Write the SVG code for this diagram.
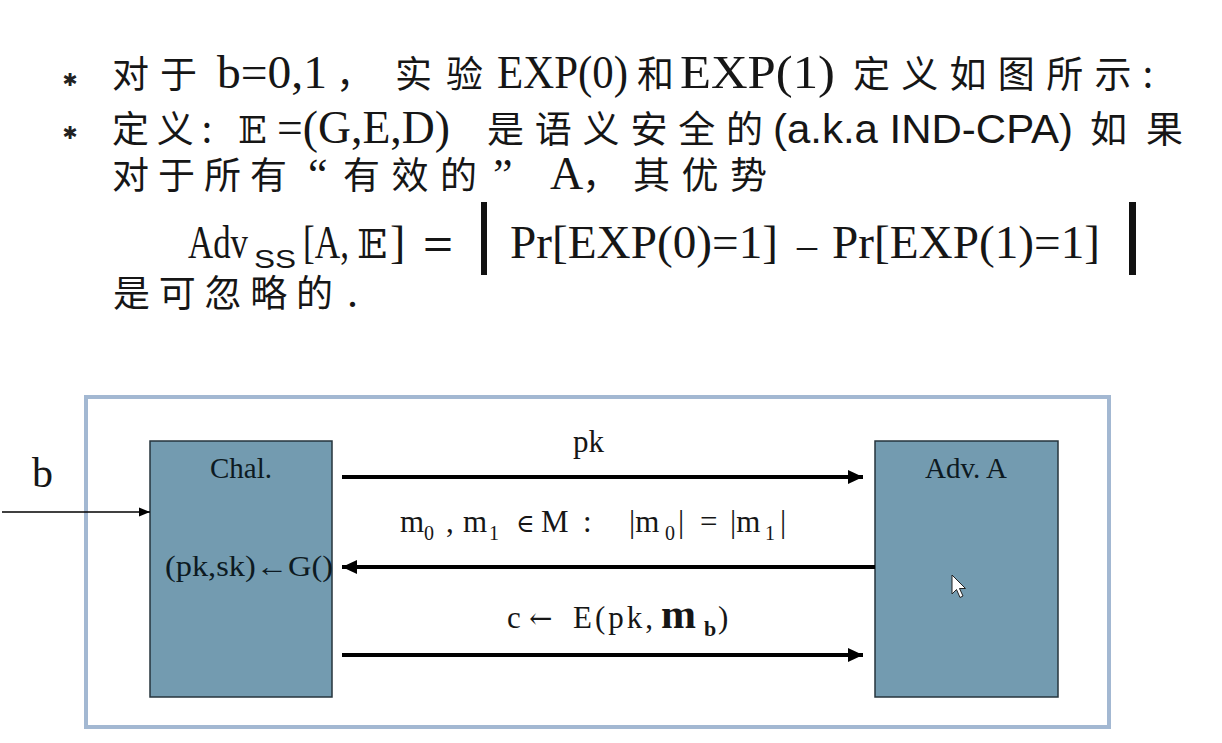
<svg xmlns="http://www.w3.org/2000/svg" width="1222" height="743" viewBox="0 0 1222 743">
<style>
.cjk{font-family:"Noto Sans CJK SC",sans-serif;font-size:37px;fill:#161616}
.ser{font-family:"Liberation Serif","DejaVu Serif","Noto Sans CJK SC",serif;fill:#161616}
.san{font-family:"Liberation Sans","DejaVu Sans",sans-serif;fill:#161616}
.bb{font-family:"DejaVu Serif","Liberation Serif",serif;fill:#161616}
.box{fill:#739bb0;stroke:#26343d;stroke-width:1.5}
.dia{font-family:"Liberation Serif","DejaVu Serif",serif;fill:#0d1a22}
.conn{stroke:#000;stroke-width:4;fill:none}
</style>
<defs>
<marker id="ah" markerUnits="userSpaceOnUse" markerWidth="16" markerHeight="16" refX="15" refY="8" orient="auto"><path d="M0,1 L15,8 L0,15 z" fill="#000"/></marker>
<marker id="ahs" markerUnits="userSpaceOnUse" markerWidth="12" markerHeight="10" refX="11" refY="5" orient="auto"><path d="M0,0.5 L11,5 L0,9.5 z" fill="#000"/></marker>
</defs>
<rect width="1222" height="743" fill="#fff"/>

<g id="bullets" font-family="DejaVu Sans" font-size="18" fill="#222" text-anchor="middle">
<text x="70" y="86">✱</text>
<text x="70" y="139">✱</text>
</g>

<g id="line1">
<text class="cjk" x="112" y="88" textLength="85">对于</text>
<text class="ser" x="217" y="88" font-size="46" textLength="110" lengthAdjust="spacingAndGlyphs">b=0,1</text>
<text class="cjk" x="336" y="88">，</text>
<text class="cjk" x="395" y="88" textLength="88">实验</text>
<text class="ser" x="497" y="88" font-size="46" textLength="131" lengthAdjust="spacingAndGlyphs">EXP(0)</text>
<text class="cjk" x="637" y="88">和</text>
<text class="ser" x="680" y="88" font-size="46" textLength="155" lengthAdjust="spacingAndGlyphs">EXP(1)</text>
<text class="cjk" x="853" y="88" textLength="300">定义如图所示:</text>
</g>

<g id="line2">
<text class="cjk" x="112" y="143" textLength="100">定义:</text>
<text class="bb" x="238" y="143" font-size="38">𝔼</text>
<text class="ser" x="277" y="143" font-size="46" textLength="173" lengthAdjust="spacingAndGlyphs">=(G,E,D)</text>
<text class="cjk" x="487" y="143" textLength="276">是语义安全的</text>
<text class="san" x="773" y="143" font-size="40" textLength="300" lengthAdjust="spacingAndGlyphs">(a.k.a IND-CPA)</text>
<text class="cjk" x="1090" y="143" textLength="93">如果</text>
</g>

<g id="line3">
<text class="cjk" x="112" y="189" textLength="175">对于所有</text>
<text class="ser" x="308" y="189" font-size="44">“</text>
<text class="cjk" x="343" y="189" textLength="134">有效的</text>
<text class="ser" x="493" y="189" font-size="44">”</text>
<text class="ser" x="550" y="189" font-size="46">A</text>
<text class="cjk" x="582" y="189">，</text>
<text class="cjk" x="633" y="189" textLength="134">其优势</text>
</g>

<g id="formula">
<text class="ser" x="188" y="258" font-size="46" textLength="60" lengthAdjust="spacingAndGlyphs">Adv</text>
<text class="san" x="254" y="268" font-size="25" textLength="42" lengthAdjust="spacingAndGlyphs">SS</text>
<text class="ser" x="303" y="258" font-size="46" textLength="46" lengthAdjust="spacingAndGlyphs">[A,</text>
<text class="bb" x="357" y="258" font-size="40">𝔼</text>
<text class="ser" x="390" y="258" font-size="46">]</text>
<text class="san" x="423" y="258" font-size="40" textLength="30" lengthAdjust="spacingAndGlyphs">=</text>
<rect x="481" y="202" width="6" height="73" fill="#111"/>
<text class="ser" x="510" y="258" font-size="47" textLength="268" lengthAdjust="spacingAndGlyphs">Pr[EXP(0)=1]</text>
<text class="ser" x="797" y="258" font-size="40" textLength="20" lengthAdjust="spacingAndGlyphs">–</text>
<text class="ser" x="832" y="258" font-size="47" textLength="268" lengthAdjust="spacingAndGlyphs">Pr[EXP(1)=1]</text>
<rect x="1129" y="202" width="7" height="73" fill="#111"/>
</g>

<g id="line5">
<text class="cjk" x="113" y="307" textLength="220">是可忽略的</text>
<text class="ser" x="347" y="307" font-size="44">.</text>
</g>

<g id="frame">
<rect x="86" y="397" width="1023" height="330" fill="none" stroke="#a3b8d2" stroke-width="4"/>
</g>

<g id="chal">
<rect class="box" x="150" y="441" width="182" height="256"/>
<text class="dia" x="241" y="478" font-size="29" text-anchor="middle">Chal.</text>
<text class="dia" x="165" y="576" font-size="29" textLength="168" lengthAdjust="spacingAndGlyphs">(pk,sk)←G()</text>
</g>

<g id="adv">
<rect class="box" x="875" y="441" width="183" height="256"/>
<text class="dia" x="966" y="478" font-size="29" text-anchor="middle">Adv. A</text>
</g>

<g id="input-b">
<text class="ser" x="32" y="487" font-size="42">b</text>
</g>

<g id="connectors">
<line x1="2" y1="512" x2="150" y2="512" stroke="#000" stroke-width="1.3" marker-end="url(#ahs)"/>
<line class="conn" x1="342" y1="477" x2="863" y2="477" marker-end="url(#ah)"/>
<line class="conn" x1="875" y1="567" x2="342" y2="567" marker-end="url(#ah)"/>
<line class="conn" x1="342" y1="655" x2="863" y2="655" marker-end="url(#ah)"/>
</g>

<g id="labels">
<text class="ser" x="573" y="452" font-size="31">pk</text>
<text class="ser" font-size="31" y="532"><tspan x="400">m</tspan><tspan x="424" y="540" font-size="20">0</tspan><tspan x="446" y="532">,</tspan><tspan x="463">m</tspan><tspan x="489" y="540" font-size="20">1</tspan><tspan x="516" y="532" font-family="DejaVu Serif" font-size="25">∈</tspan><tspan x="541">M</tspan><tspan x="583">:</tspan><tspan x="629">|m</tspan><tspan x="665" y="540" font-size="20">0</tspan><tspan x="678" y="532">|</tspan><tspan x="700">=</tspan><tspan x="730">|m</tspan><tspan x="765" y="540" font-size="20">1</tspan><tspan x="780" y="532">|</tspan></text>
<text class="ser" font-size="31" y="628"><tspan x="507">c</tspan><tspan x="529" font-family="DejaVu Serif" font-size="28">←</tspan><tspan x="573" textLength="80" lengthAdjust="spacing">E(pk,</tspan><tspan x="661" font-weight="bold" font-size="42">m</tspan><tspan x="704" y="636" font-weight="bold" font-size="22">b</tspan><tspan x="718" y="628">)</tspan></text>
</g>

<g id="cursor">
<path d="M952,575 L952,594 L956.5,589.5 L960,597.5 L963,596 L959.5,588.5 L965.5,588.5 Z" fill="#fff" stroke="#222" stroke-width="1"/>
</g>
</svg>
